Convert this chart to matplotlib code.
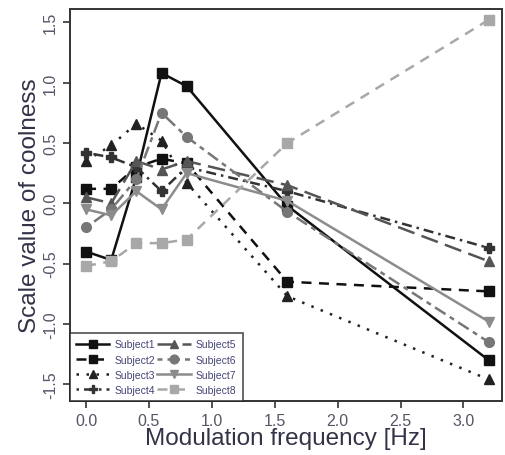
import numpy as np
import matplotlib
matplotlib.use("Agg")
import matplotlib.pyplot as plt

plt.rcParams["font.family"] = ["Liberation Sans", "DejaVu Sans"]

# modulation frequencies (Hz)
freq = [0.0, 0.2, 0.4, 0.6, 0.8, 1.6, 3.2]

# scale values of coolness per subject
subject1 = [-0.40, -0.47, 0.22, 1.08, 0.97, -0.02, -1.30]
subject2 = [0.12, 0.12, 0.30, 0.37, 0.33, -0.65, -0.73]
subject3 = [0.35, 0.48, 0.66, 0.52, 0.17, -0.77, -1.46]
subject4 = [0.42, 0.38, 0.30, 0.10, 0.30, 0.10, -0.37]
subject5 = [0.05, 0.00, 0.35, 0.28, 0.35, 0.15, -0.48]
subject6 = [-0.20, -0.05, 0.20, 0.75, 0.55, -0.07, -1.15]
subject7 = [-0.05, -0.10, 0.10, -0.05, 0.25, 0.02, -0.98]
subject8 = [-0.52, -0.48, -0.33, -0.33, -0.30, 0.50, 1.52]

names = ["Subject1", "Subject2", "Subject3", "Subject4",
         "Subject5", "Subject6", "Subject7", "Subject8"]
series = [subject1, subject2, subject3, subject4,
          subject5, subject6, subject7, subject8]

# R-like line types: solid, dashed, dotted, dotdash, longdash, twodash, solid, dashed
styles = [
    ("#111111", "-", "s"),
    ("#111111", (0, (4, 3)), "s"),
    ("#222222", (0, (1, 3)), "^"),
    ("#333333", (0, (1, 2, 4, 2)), "P"),
    ("#555555", (0, (7, 3)), "^"),
    ("#777777", (0, (2, 2, 5, 2)), "o"),
    ("#8c8c8c", "-", "v"),
    ("#a8a8a8", (0, (4, 3)), "s"),
]

txt = "#333348"

fig = plt.figure(figsize=(5.05, 4.56), dpi=100)
ax = fig.add_axes([0.138, 0.118, 0.857, 0.86])

for name, vals, (col, ls, mk) in zip(names, series, styles):
    ax.plot(freq, vals, color=col, linestyle=ls, linewidth=1.8,
            marker=mk, markersize=7, label=name)

ax.set_xlim(-0.13, 3.31)
ax.set_ylim(-1.64, 1.61)
ax.set_xticks([0.0, 0.5, 1.0, 1.5, 2.0, 2.5, 3.0])
ax.set_xticklabels(["0.0", "0.5", "1.0", "1.5", "2.0", "2.5", "3.0"])
ax.set_yticks([-1.5, -1.0, -0.5, 0.0, 0.5, 1.0, 1.5])
ax.set_yticklabels(["-1.5", "-1.0", "-0.5", "0.0", "0.5", "1.0", "1.5"],
                   rotation=90, va="center")
ax.tick_params(direction="out", length=5, width=1.2, labelsize=11.5,
               labelcolor="#555566", color="#333333")

for sp in ax.spines.values():
    sp.set_linewidth(1.4)
    sp.set_color("#333333")

ax.set_xlabel("Modulation frequency [Hz]", fontsize=17.5, color=txt, labelpad=-1)
ax.set_ylabel("Scale value of coolness", fontsize=17.5, color=txt, labelpad=1)

leg = ax.legend(loc="lower left", ncol=2, fontsize=7.5, frameon=True,
                fancybox=False, borderaxespad=0, handlelength=3.2,
                handletextpad=0.5, columnspacing=0.2, labelspacing=0.5,
                borderpad=0.6, markerscale=0.9)
leg.get_frame().set_edgecolor("#222222")
leg.get_frame().set_linewidth(1.2)
for t in leg.get_texts():
    t.set_color("#444477")

fig.savefig("out.png", dpi=100)
